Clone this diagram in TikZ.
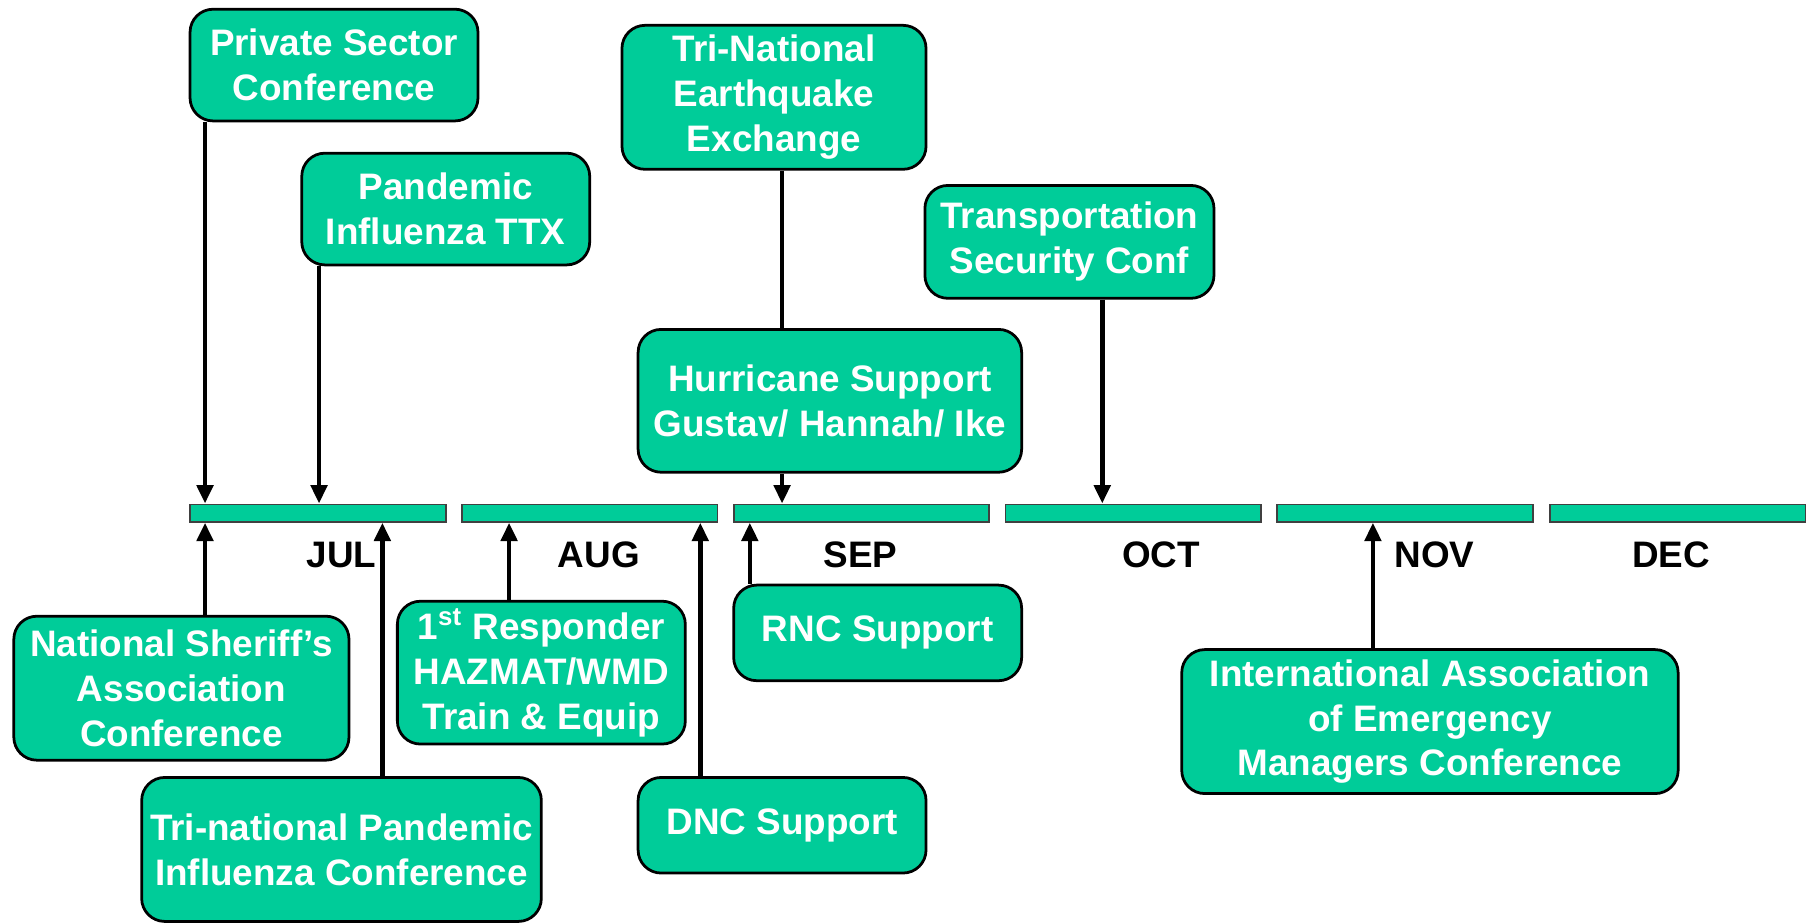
\documentclass[tikz,border=0pt]{standalone}
\usepackage{fontspec}
\setmainfont{Liberation Sans}
\usetikzlibrary{arrows.meta}
\definecolor{evgreen}{RGB}{0,204,153}
\begin{document}
\begin{tikzpicture}[x=0.5pt,y=-0.5pt,
 evbox/.style={draw=black, line width=1.2pt, fill=evgreen, rounded corners=10pt, text=white,
   font=\fontsize{16pt}{19.5pt}\selectfont\bfseries, align=center, inner sep=0pt},
 bar/.style={draw=black!75, line width=0.8pt, fill=evgreen, inner sep=0pt, minimum width=111pt, minimum height=7.5pt},
 month/.style={font=\fontsize{16pt}{19pt}\selectfont\bfseries, text=black},
 conn/.style={line width=2pt},
 arr/.style={conn, -{Triangle[length=8pt,width=7pt]}}]
\useasboundingbox (0,0) rectangle (1568,801);

% timeline bars
\node[bar] (jul) at (276,445.5) {};
\node[bar] (aug) at (512,445.5) {};
\node[bar] (sep) at (748,445.5) {};
\node[bar] (oct) at (984,445.5) {};
\node[bar] (nov) at (1220,445.5) {};
\node[bar] (dec) at (1456.5,445.5) {};

% month labels
\node[month] (ljul) at (296.5,482) {JUL};
\node[month] (laug) at (520,482) {AUG};
\node[month] (lsep) at (747,482) {SEP};
\node[month] (loct) at (1008,482) {OCT};
\node[month] (lnov) at (1245.5,482) {NOV};
\node[month] (ldec) at (1451,482) {DEC};

% event boxes
\node[evbox, minimum width=125pt, minimum height=48.5pt] (ps) at (290,56.5) {Private Sector\\Conference};
\node[evbox, minimum width=125pt, minimum height=48.5pt] (ttx) at (387,181.5) {Pandemic\\Influenza TTX};
\node[evbox, minimum width=132pt, minimum height=62.5pt] (eq) at (672,84.5) {Tri-National\\Earthquake\\Exchange};
\node[evbox, minimum width=125.5pt, minimum height=49pt] (tsc) at (928.5,210) {Transportation\\Security Conf};
\node[evbox, minimum width=166.5pt, minimum height=62pt] (hur) at (720.5,348) {Hurricane Support\\Gustav/ Hannah/ Ike};
\node[evbox, minimum width=145.5pt, minimum height=62.5pt] (nsa) at (157.5,597.5) {National Sheriff’s\\Association\\Conference};
\node[evbox, minimum width=173.5pt, minimum height=62.5pt] (tpi) at (296.5,737.5) {Tri-national Pandemic\\Influenza Conference};
\node[evbox, minimum width=125pt, minimum height=62pt] (fr) at (470,584) {1\textsuperscript{st} Responder\\HAZMAT/WMD\\Train \& Equip};
\node[evbox, minimum width=125pt, minimum height=41.5pt] (rnc) at (762,549.5) {RNC Support};
\node[evbox, minimum width=125pt, minimum height=41.5pt] (dnc) at (679,716.5) {DNC Support};
\node[evbox, minimum width=215.5pt, minimum height=62.5pt] (iaem) at (1241.5,626.5) {International Association\\of Emergency\\Managers Conference};

% connector x positions
\coordinate (xa) at (178,0);
\coordinate (xb) at (277,0);
\coordinate (xc) at (679,0);
\coordinate (xd) at (957,0);
\coordinate (xe) at (332,0);
\coordinate (xf) at (442,0);
\coordinate (xg) at (608,0);
\coordinate (xh) at (651,0);
\coordinate (xi) at (1192,0);

% connectors from above
\draw[arr] (ps.south -| xa) -- (jul.north -| xa);
\draw[arr] (ttx.south -| xb) -- (jul.north -| xb);
\draw[conn] (eq.south -| xc) -- (hur.north -| xc);
\draw[arr] (hur.south -| xc) -- (sep.north -| xc);
\draw[arr] (tsc.south -| xd) -- (oct.north -| xd);

% connectors from below
\draw[arr] (nsa.north -| xa) -- (jul.south -| xa);
\draw[arr] (tpi.north -| xe) -- (jul.south -| xe);
\draw[arr] (fr.north -| xf) -- (aug.south -| xf);
\draw[arr] (dnc.north -| xg) -- (aug.south -| xg);
\draw[arr] (rnc.north -| xh) -- (sep.south -| xh);
\draw[arr] (iaem.north -| xi) -- (nov.south -| xi);
\end{tikzpicture}
\end{document}
